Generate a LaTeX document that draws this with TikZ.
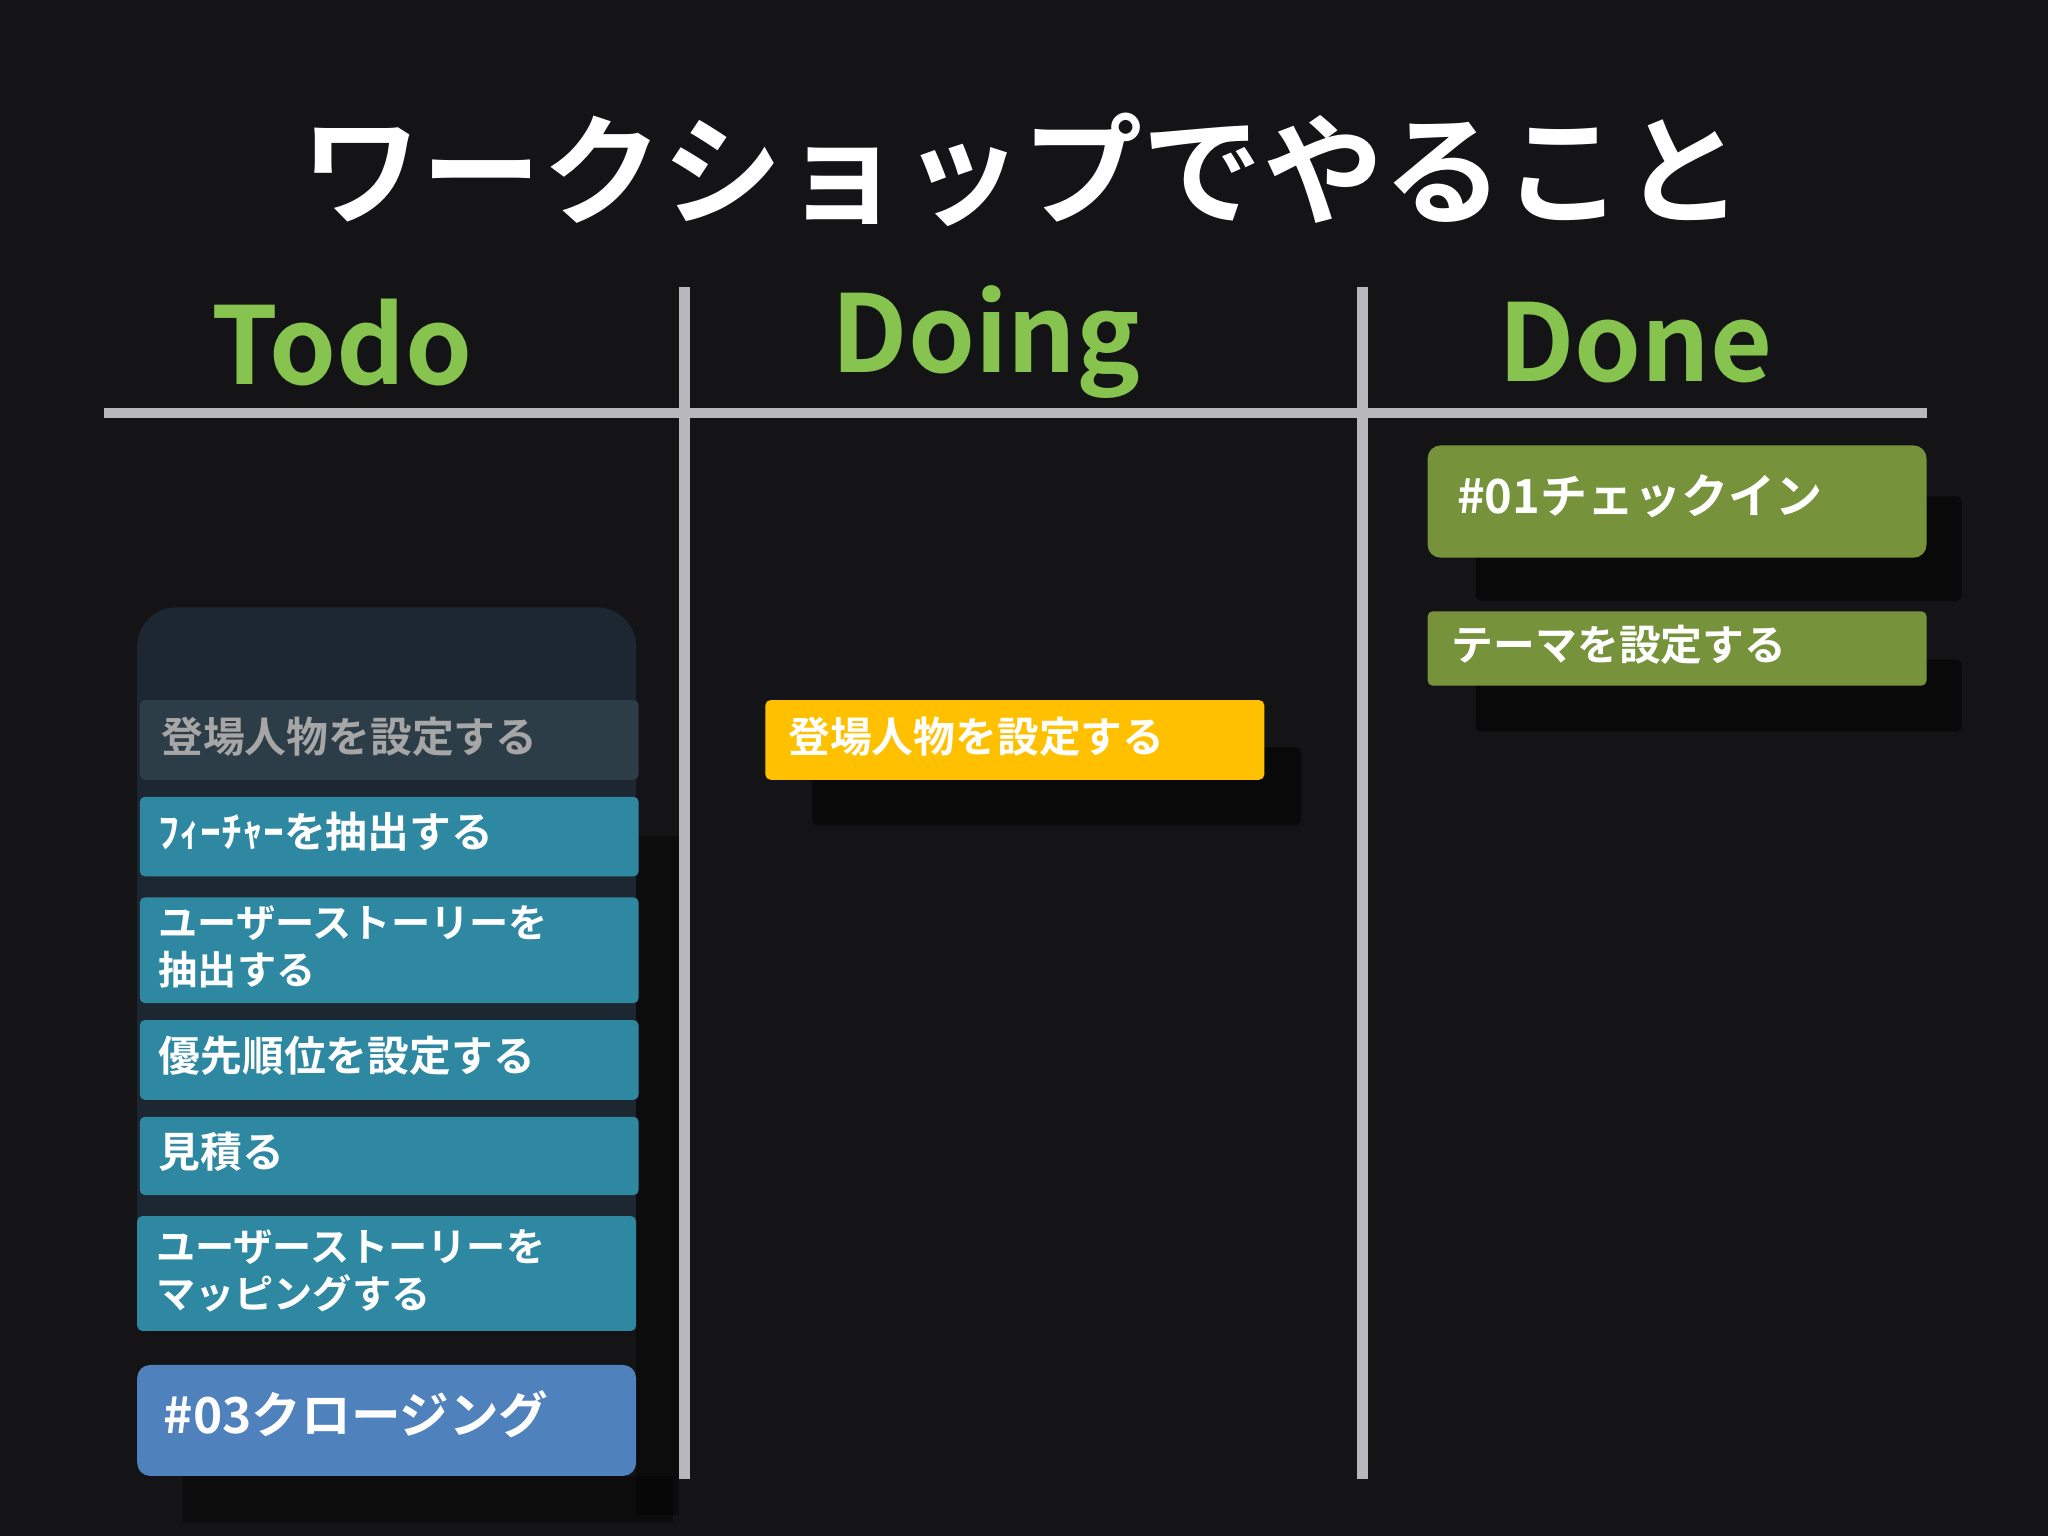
\documentclass[tikz,border=0pt]{standalone}
\usepackage{fontspec}
\setmainfont{Noto Sans CJK JP}[BoldFont={* Bold}]
\definecolor{bg}{HTML}{141416}
\definecolor{hdr}{HTML}{86C44F}
\definecolor{ln}{HTML}{B8B8BC}
\definecolor{dgreen}{HTML}{76933C}
\definecolor{yel}{HTML}{FFC000}
\definecolor{teal}{HTML}{2E88A1}
\definecolor{blu}{HTML}{4F81BD}
\definecolor{panel}{HTML}{1F2A35}
\definecolor{faded}{HTML}{2C3D47}
\tikzset{x=1pt,y=-1pt,
 card/.style={rounded corners=4pt},
 shad/.style={fill=black,opacity=0.55,rounded corners=4pt},
 ctext/.style={anchor=west,text=white,font=\bfseries\fontsize{32}{38}\selectfont,align=left},
 hd/.style={text=hdr,font=\bfseries\fontsize{82}{90}\selectfont}}
\begin{document}
\begin{tikzpicture}
\fill[bg] (0,0) rectangle (1568,1176);
\useasboundingbox (0,0) rectangle (1568,1176);
\node[text=white,font=\bfseries\fontsize{92}{100}\selectfont] (title) at (783,130) {ワークショップでやること};
\node[hd] (todo) at (262,262) {Todo};
\node[hd] (doing) at (755,262) {Doing};
\node[hd] (done) at (1252,262) {Done};
\draw[ln,line width=8pt] (80,316) -- (1475,316);
\draw[ln,line width=8pt] (524,220) -- (524,1132);
\draw[ln,line width=8pt] (1043,220) -- (1043,1132);
% Done
\fill[shad] (1130,380) rectangle (1502,460);
\fill[dgreen,card,rounded corners=10pt] (1093,341) rectangle (1475,427);
\node[ctext,font=\bfseries\fontsize{36}{40}\selectfont] (c1) at (1112,380) {\#01チェックイン};
\fill[shad] (1130,505) rectangle (1502,560);
\fill[dgreen,card] (1093,468) rectangle (1475,525);
\node[ctext] (c2) at (1108,494) {テーマを設定する};
% Doing
\fill[shad] (622,572) rectangle (996,632);
\fill[yel,card] (586,536) rectangle (968,597);
\node[ctext] (d1) at (600,564) {登場人物を設定する};
% Todo
\fill[panel,opacity=0.9,rounded corners=30pt] (105,465) rectangle (487,1010);
\fill[black,opacity=0.4] (487,640) rectangle (520,1160);
\fill[black,opacity=0.4] (140,1130) rectangle (515,1165);
\fill[faded,card] (107,536) rectangle (489,597);
\node[ctext,text=gray!70] (t0) at (120,564) {登場人物を設定する};
\fill[teal,card] (107,610) rectangle (489,671);
\node[ctext] (t1) at (118,637) {ﾌｨｰﾁｬｰを抽出する};
\fill[teal,card] (107,687) rectangle (489,768);
\node[ctext,font=\bfseries\fontsize{30}{36}\selectfont] (t2) at (118,725) {ユーザーストーリーを\\抽出する};
\fill[teal,card] (107,781) rectangle (489,842);
\node[ctext] (t3) at (118,808) {優先順位を設定する};
\fill[teal,card] (107,855) rectangle (489,915);
\node[ctext] (t4) at (118,882) {見積る};
\fill[teal,card] (105,931) rectangle (487,1019);
\node[ctext,font=\bfseries\fontsize{30}{36}\selectfont] (t5) at (116,973) {ユーザーストーリーを\\マッピングする};
\fill[blu,rounded corners=10pt] (105,1045) rectangle (487,1130);
\node[ctext,font=\bfseries\fontsize{38}{42}\selectfont] (t6) at (122,1083) {\#03クロージング};
\end{tikzpicture}
\end{document}
